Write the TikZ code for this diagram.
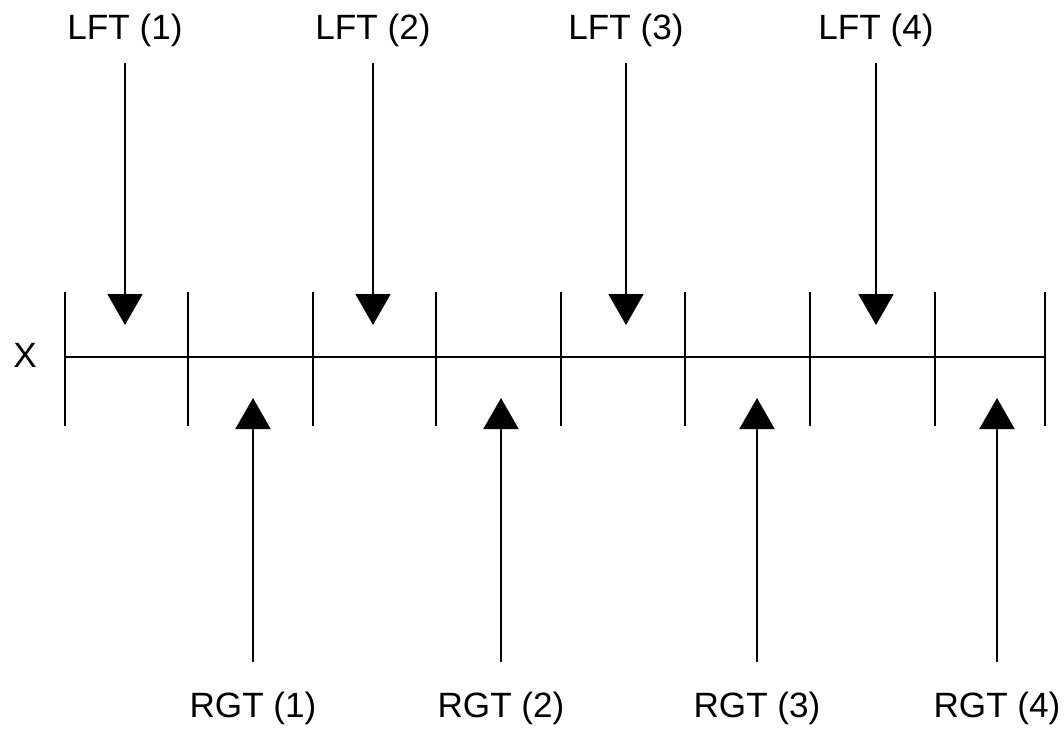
\documentclass[tikz,border=0pt]{standalone}
\usepackage{fontspec}
\setmainfont{Liberation Sans}
\usetikzlibrary{arrows.meta,positioning}

\begin{document}
\begin{tikzpicture}[x=0.02cm, y=-0.02cm,
		lab/.style={font=\fontsize{20}{24}\selectfont, inner sep=0pt, text height=14pt, text depth=0pt, anchor=base},
		bar/.style={line width=1.1pt},
		lftarrow/.style={line width=1.1pt, -{Triangle[width=0.7cm,length=0.62cm]}, shorten <=0.48cm},
		rgtarrow/.style={line width=1.1pt, -{Triangle[width=0.7cm,length=0.62cm]}, shorten <=0.6cm}
	]
		\useasboundingbox (0,0) rectangle (1064,728);
		% the axis X and its cells
		\node[lab] (x) at (25,367) {X};
		\draw[bar] (65,357) -- (1045,357);
		\draw[bar] (65,292) -- (65,426)   (188,292) -- (188,426)
			(313,292) -- (313,426)   (436,292) -- (436,426)
			(561,292) -- (561,426)   (685,292) -- (685,426)
			(810,292) -- (810,426)   (935,292) -- (935,426)
			(1045,292) -- (1045,426);
		
		% left ends, from above
		\node[lab] (lft1) at (125,39) {LFT (1)};
		\node[lab] (lft2) at (373,39) {LFT (2)};
		\node[lab] (lft3) at (626,39) {LFT (3)};
		\node[lab] (lft4) at (876,39) {LFT (4)};
		\coordinate (l1) at (125,325);
		\coordinate (l2) at (373,325);
		\coordinate (l3) at (626,325);
		\coordinate (l4) at (876,325);
		\draw[lftarrow] (lft1) -- (l1);
		\draw[lftarrow] (lft2) -- (l2);
		\draw[lftarrow] (lft3) -- (l3);
		\draw[lftarrow] (lft4) -- (l4);
		
		% right ends, from below
		\node[lab] (rgt1) at (253,717) {RGT (1)};
		\node[lab] (rgt2) at (501,717) {RGT (2)};
		\node[lab] (rgt3) at (757,717) {RGT (3)};
		\node[lab] (rgt4) at (997,717) {RGT (4)};
		\coordinate (r1) at (253,398);
		\coordinate (r2) at (501,398);
		\coordinate (r3) at (757,398);
		\coordinate (r4) at (997,398);
		\draw[rgtarrow] (rgt1) -- (r1);
		\draw[rgtarrow] (rgt2) -- (r2);
		\draw[rgtarrow] (rgt3) -- (r3);
		\draw[rgtarrow] (rgt4) -- (r4);
	\end{tikzpicture}
\end{document}
